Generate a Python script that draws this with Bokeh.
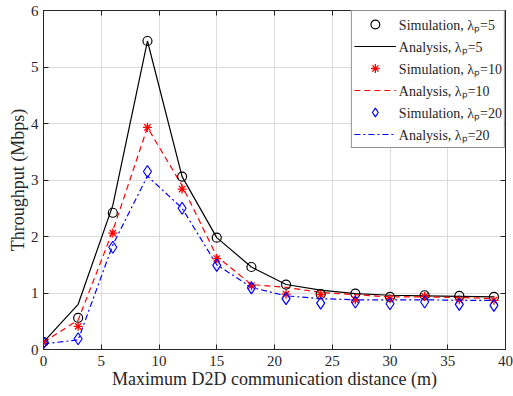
from bokeh.plotting import figure
from bokeh.models import Range1d, FixedTicker, Legend, LegendItem, LinearAxis
from bokeh.embed import file_html
from bokeh.resources import INLINE

# ---- data ----
x = [0, 3, 6, 9, 12, 15, 18, 21, 24, 27, 30, 33, 36, 39]
sim5 = [0.13, 0.56, 2.42, 5.46, 3.06, 1.98, 1.46, 1.15, 0.98, 0.99, 0.93, 0.96, 0.95, 0.93]
ana5 = [0.13, 0.80, 2.55, 5.46, 3.06, 1.98, 1.46, 1.15, 1.05, 0.99, 0.96, 0.95, 0.94, 0.93]
sim10 = [0.13, 0.41, 2.06, 3.93, 2.84, 1.61, 1.13, 0.98, 0.97, 0.88, 0.90, 0.94, 0.88, 0.87]
ana10 = [0.13, 0.52, 2.10, 3.93, 2.90, 1.65, 1.15, 1.10, 1.01, 0.97, 0.93, 0.93, 0.92, 0.90]
sim20 = [0.12, 0.19, 1.81, 3.15, 2.50, 1.49, 1.09, 0.90, 0.82, 0.84, 0.81, 0.84, 0.80, 0.78]
ana20 = [0.10, 0.17, 1.85, 3.07, 2.50, 1.50, 1.10, 0.95, 0.90, 0.88, 0.88, 0.88, 0.87, 0.87]
x_ticks = [0, 5, 10, 15, 20, 25, 30, 35, 40]
y_ticks = [0, 1, 2, 3, 4, 5, 6]
labels = ["Simulation, λₚ=5", "Analysis, λₚ=5",
          "Simulation, λₚ=10", "Analysis, λₚ=10",
          "Simulation, λₚ=20", "Analysis, λₚ=20"]
x_title = "Maximum D2D communication distance (m)"
y_title = "Throughput (Mbps)"

FONT = "Liberation Serif"
TXT = "#262626"

p = figure(width=513, height=396, output_backend="svg", toolbar_location=None,
           x_range=Range1d(x_ticks[0], x_ticks[-1]), y_range=Range1d(y_ticks[0], y_ticks[-1]),
           min_border_left=43, min_border_right=8, min_border_top=10, min_border_bottom=47)
p.background_fill_color = "white"
p.outline_line_color = TXT
p.outline_line_width = 1

for ax in (p.xaxis[0], p.yaxis[0]):
    ax.major_tick_in = 5
    ax.major_tick_out = 0
    ax.minor_tick_line_color = None
    ax.axis_line_color = TXT
    ax.major_tick_line_color = TXT
    ax.major_label_text_font = FONT
    ax.major_label_text_font_size = "15px"
    ax.major_label_text_color = TXT
    ax.axis_label_text_font = FONT
    ax.axis_label_text_font_size = "18px"
    ax.axis_label_text_font_style = "normal"
    ax.axis_label_text_color = TXT
p.xaxis[0].ticker = FixedTicker(ticks=x_ticks)
p.yaxis[0].ticker = FixedTicker(ticks=y_ticks)
p.xaxis[0].axis_label = x_title
p.yaxis[0].axis_label = y_title
p.xaxis[0].axis_label_standoff = 0
p.yaxis[0].axis_label_standoff = 0
p.xaxis[0].major_label_standoff = 6
p.yaxis[0].major_label_standoff = 5

# box-on tick marks on the top and right edges (labels not drawn)
top = LinearAxis(ticker=FixedTicker(ticks=x_ticks), major_label_text_color=None,
                 major_label_text_font_size="1px", major_label_standoff=0,
                 major_tick_in=5, major_tick_out=0, minor_tick_line_color=None,
                 axis_line_color=TXT, major_tick_line_color=TXT)
right = LinearAxis(ticker=FixedTicker(ticks=y_ticks), major_label_text_color=None,
                   major_label_text_font_size="1px", major_label_standoff=0,
                   major_tick_in=5, major_tick_out=0, minor_tick_line_color=None,
                   axis_line_color=TXT, major_tick_line_color=TXT)
p.add_layout(top, "above")
p.add_layout(right, "right")

p.xgrid.ticker = FixedTicker(ticks=x_ticks)
p.ygrid.ticker = FixedTicker(ticks=y_ticks)
p.grid.grid_line_color = "#dcdcdc"
p.grid.grid_line_width = 1

r_a5 = p.line(x, ana5, line_color="black", line_width=1.2)
r_a10 = p.line(x, ana10, line_color="red", line_width=1.2, line_dash="6 4")
r_a20 = p.line(x, ana20, line_color="blue", line_width=1.2, line_dash="6 3 2 3")
r_s5 = p.scatter(x, sim5, marker="circle", size=9, fill_color=None, line_color="black", line_width=1.2)
r_s10 = p.scatter(x, sim10, marker="asterisk", size=9, line_color="red", line_width=1.3)
r_s20 = p.scatter(x, sim20, marker="diamond", size=12, fill_color=None, line_color="blue", line_width=1.2)

items = [LegendItem(label=labels[0], renderers=[r_s5]),
         LegendItem(label=labels[1], renderers=[r_a5]),
         LegendItem(label=labels[2], renderers=[r_s10]),
         LegendItem(label=labels[3], renderers=[r_a10]),
         LegendItem(label=labels[4], renderers=[r_s20]),
         LegendItem(label=labels[5], renderers=[r_a20])]
leg = Legend(items=items, location="top_right")
leg.margin = 0
leg.padding = 2
leg.spacing = 0
leg.label_height = 22
leg.glyph_height = 22
leg.glyph_width = 42
leg.label_standoff = 3
leg.label_text_font = FONT
leg.label_text_font_size = "14px"
leg.label_text_color = TXT
leg.border_line_color = TXT
leg.border_line_width = 1
leg.background_fill_alpha = 1
p.add_layout(leg, "center")

open("out.html", "w").write(file_html(p, INLINE))
